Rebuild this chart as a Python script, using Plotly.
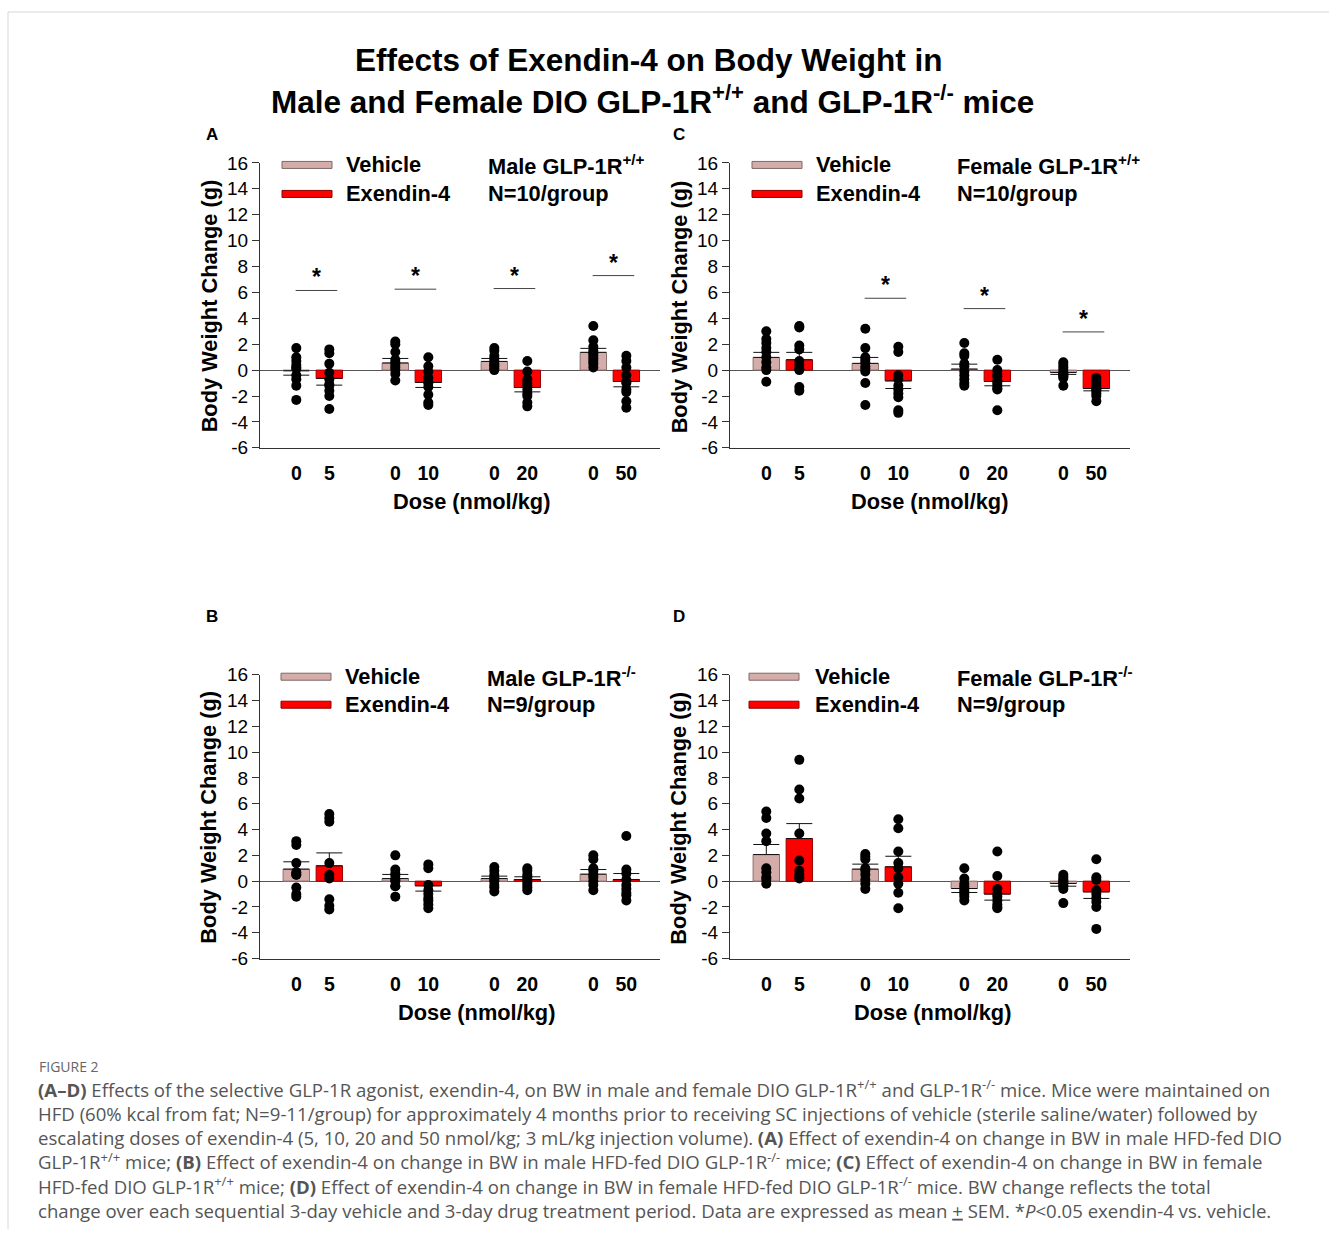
import plotly.graph_objects as go

# ---------------- data ----------------
doses = [5, 10, 20, 50]
dose_labels = ["5", "10", "20", "50"]

# Panel A: Male GLP-1R+/+
A_veh_mean = [-0.05, 0.55, 0.67, 1.37]
A_veh_sem = [0.34, 0.35, 0.23, 0.31]
A_exe_mean = [-0.64, -0.95, -1.34, -0.88]
A_exe_sem = [0.52, 0.39, 0.34, 0.41]
A_veh_pts = [[1.7, 1.0, 0.7, 0.4, 0.2, 0.1, -0.4, -0.7, -1.2, -2.3],
             [2.2, 2.0, 1.4, 0.8, 0.6, 0.4, 0.2, 0.0, -0.3, -0.8],
             [1.7, 1.5, 1.1, 0.9, 0.7, 0.5, 0.4, 0.3, 0.1, 0.0],
             [3.4, 2.3, 1.8, 1.5, 1.3, 1.1, 0.9, 0.7, 0.5, 0.2]]
A_exe_pts = [[1.6, 1.3, 0.5, -0.2, -0.7, -1.1, -1.2, -1.6, -2.0, -3.0],
             [1.0, 0.3, -0.1, -0.6, -0.9, -1.0, -1.3, -1.9, -2.5, -2.7],
             [0.7, -0.1, -0.7, -1.0, -1.2, -1.5, -1.8, -2.0, -2.5, -2.8],
             [1.1, 0.7, 0.2, -0.4, -0.9, -1.0, -1.5, -1.7, -2.4, -2.9]]
A_sig_groups = [0, 1, 2, 3]
A_sig_y = [6.15, 6.25, 6.3, 7.3]

# Panel C: Female GLP-1R+/+
C_veh_mean = [0.98, 0.52, 0.08, -0.18]
C_veh_sem = [0.39, 0.46, 0.38, 0.15]
C_exe_mean = [0.8, -0.83, -0.88, -1.42]
C_exe_sem = [0.57, 0.59, 0.33, 0.18]
C_veh_pts = [[3.0, 2.4, 2.1, 1.7, 1.4, 1.0, 0.6, 0.2, 0.0, -0.9],
             [3.2, 1.7, 1.0, 0.8, 0.6, 0.3, 0.1, -0.1, -1.0, -2.7],
             [2.1, 1.3, 1.1, 0.5, 0.3, -0.1, -0.4, -0.7, -1.0, -1.2],
             [0.6, 0.4, 0.2, 0.0, -0.2, -0.3, -0.4, -0.5, -0.6, -1.2]]
C_exe_pts = [[3.4, 3.3, 1.9, 1.6, 0.7, 0.4, 0.1, 0.0, -1.3, -1.6],
             [1.8, 1.4, -0.4, -0.7, -1.2, -1.5, -1.8, -2.1, -3.1, -3.3],
             [0.8, 0.0, -0.3, -0.5, -0.8, -1.0, -1.2, -1.4, -1.5, -3.1],
             [-0.6, -0.8, -1.0, -1.2, -1.4, -1.5, -1.6, -1.8, -2.0, -2.4]]
C_sig_groups = [1, 2, 3]
C_sig_y = [5.55, 4.75, 2.95]

# Panel B: Male GLP-1R-/-
B_veh_mean = [0.93, 0.2, 0.2, 0.54]
B_veh_sem = [0.57, 0.32, 0.19, 0.36]
B_exe_mean = [1.19, -0.36, 0.13, 0.13]
B_exe_sem = [1.0, 0.41, 0.21, 0.46]
B_veh_pts = [[3.1, 2.8, 1.4, 0.7, 0.5, 0.5, -0.5, -1.0, -1.2],
             [2.0, 0.9, 0.6, 0.4, 0.1, 0.0, -0.4, -0.4, -1.2],
             [1.1, 0.8, 0.5, 0.3, 0.1, 0.0, -0.3, -0.5, -0.8],
             [2.0, 1.7, 1.0, 0.8, 0.5, 0.3, 0.0, -0.3, -0.7]]
B_exe_pts = [[5.2, 4.9, 4.6, 1.4, 0.5, 0.2, -1.4, -1.9, -2.2],
             [1.3, 1.0, -0.3, -0.7, -1.0, -1.3, -1.5, -1.8, -2.1],
             [1.0, 0.8, 0.5, 0.3, 0.1, -0.1, -0.3, -0.5, -0.7],
             [3.5, 0.9, 0.6, 0.1, -0.3, -0.6, -0.9, -1.1, -1.5]]
B_sig_groups = []
B_sig_y = []

# Panel D: Female GLP-1R-/-
D_veh_mean = [2.06, 0.93, -0.57, -0.18]
D_veh_sem = [0.78, 0.39, 0.31, 0.21]
D_exe_mean = [3.3, 1.11, -1.0, -0.83]
D_exe_sem = [1.16, 0.82, 0.47, 0.51]
D_veh_pts = [[5.4, 4.9, 3.7, 3.1, 1.0, 0.7, 0.3, 0.1, -0.2],
             [2.1, 1.9, 1.7, 1.0, 0.8, 0.5, 0.1, -0.2, -0.6],
             [1.0, 0.2, -0.2, -0.4, -0.6, -0.8, -1.0, -1.2, -1.5],
             [0.5, 0.3, 0.1, 0.0, -0.1, -0.3, -0.4, -0.6, -1.7]]
D_exe_pts = [[9.4, 7.1, 6.4, 3.7, 1.6, 0.8, 0.5, 0.3, 0.2],
             [4.8, 4.1, 2.3, 1.4, 1.0, 0.3, -0.2, -0.9, -2.1],
             [2.3, 0.4, -0.6, -1.0, -1.2, -1.5, -1.8, -2.0, -2.1],
             [1.7, 0.3, 0.1, -0.7, -1.0, -1.3, -1.6, -2.0, -3.7]]
D_sig_groups = []
D_sig_y = []

panel_sex = {"A": "Male", "C": "Female", "B": "Male", "D": "Female"}
panel_geno = {"A": "+/+", "C": "+/+", "B": "-/-", "D": "-/-"}
panel_n = {"A": "N=10/group", "C": "N=10/group", "B": "N=9/group", "D": "N=9/group"}

y_ticks = list(range(-6, 17, 2))
y_tick_labels = [str(v) for v in y_ticks]

# ---------------- styling / layout helpers ----------------
W, H = 1329, 1240
FONT = "Liberation Sans, Arial, sans-serif"
CAP_FONT = "Open Sans, Noto Sans, sans-serif"
VEH_COLOR = "#d4acaa"
EXE_COLOR = "#ff0000"
LBL = 21.8  # bold label size

# the page is photographed with a small vertical offset/scale; compensate
V_OFF = 10.0
V_SC = 0.9835


def px(x):
    return x / W


def py(y):
    return 1 - ((y - V_OFF) / V_SC) / H


# geometry: (axis left, axis right, top, bottom) in pixels
geom = {"A": (260, 660, 163, 448), "C": (730, 1130, 163, 448),
        "B": (260, 660, 675, 959), "D": (730, 1130, 675, 959)}
legend_geom = {  # swatch left, text left, label left, row-1 y, row-2 y
    "A": (282, 344, 486, 165, 194),
    "C": (752, 814, 955, 165, 194),
    "B": (281, 343, 485, 677, 705),
    "D": (749, 813, 955, 677, 705),
}
letter_pos = {"A": (212, 135), "C": (679, 135), "B": (212, 617), "D": (679, 617)}
xtitle_pos = {"A": (471, 502), "C": (929, 502), "B": (476, 1013), "D": (932, 1013)}

data = {
    "A": (A_veh_mean, A_veh_sem, A_exe_mean, A_exe_sem, A_veh_pts, A_exe_pts, A_sig_groups, A_sig_y),
    "C": (C_veh_mean, C_veh_sem, C_exe_mean, C_exe_sem, C_veh_pts, C_exe_pts, C_sig_groups, C_sig_y),
    "B": (B_veh_mean, B_veh_sem, B_exe_mean, B_exe_sem, B_veh_pts, B_exe_pts, B_sig_groups, B_sig_y),
    "D": (D_veh_mean, D_veh_sem, D_exe_mean, D_exe_sem, D_veh_pts, D_exe_pts, D_sig_groups, D_sig_y),
}

GROUP_STEP = 3
BAR_W = 0.8
fig = go.Figure()
shapes = []
annotations = []
layout = {}


def err(means, sems):
    up = [s if m >= 0 else 0 for m, s in zip(means, sems)]
    dn = [0 if m >= 0 else s for m, s in zip(means, sems)]
    return dict(type="data", symmetric=False, array=up, arrayminus=dn,
                color="#111", thickness=1, width=13)


for i, key in enumerate(["A", "C", "B", "D"]):
    sfx = "" if i == 0 else str(i + 1)
    xa, ya = "x" + sfx, "y" + sfx
    vm, vs, em, es, vp, ep, sg, sy = data[key]
    xv = [GROUP_STEP * g for g in range(len(doses))]
    xe = [GROUP_STEP * g + 1 for g in range(len(doses))]

    fig.add_trace(go.Bar(x=xv, y=vm, width=BAR_W, xaxis=xa, yaxis=ya,
                         marker=dict(color=VEH_COLOR, line=dict(color="#8a7070", width=1)),
                         error_y=err(vm, vs), showlegend=False, name="Vehicle"))
    fig.add_trace(go.Bar(x=xe, y=em, width=BAR_W, xaxis=xa, yaxis=ya,
                         marker=dict(color=EXE_COLOR, line=dict(color="#9a0000", width=1)),
                         error_y=err(em, es), showlegend=False, name="Exendin-4"))
    dx, dy = [], []
    for g in range(len(doses)):
        dx += [xv[g]] * len(vp[g]) + [xe[g]] * len(ep[g])
        dy += vp[g] + ep[g]
    fig.add_trace(go.Scatter(x=dx, y=dy, mode="markers", xaxis=xa, yaxis=ya,
                             marker=dict(color="black", size=10), showlegend=False,
                             cliponaxis=False, hoverinfo="y"))

    x0, x1, t, b = geom[key]
    tickvals = []
    ticktext = []
    for g in range(len(doses)):
        tickvals += [xv[g], xe[g]]
        ticktext += ["0", dose_labels[g]]
    layout["xaxis" + sfx] = dict(
        domain=[px(x0), px(x1)], anchor=ya, range=[-1.1, 11.02],
        tickvals=tickvals, ticktext=ticktext, ticks="outside", ticklen=8,
        tickcolor="rgba(0,0,0,0)", showline=True, linecolor="#333", linewidth=1,
        showgrid=False, zeroline=False, fixedrange=True,
        tickfont=dict(family=FONT, size=19.5, color="black", weight=700))
    layout["yaxis" + sfx] = dict(
        domain=[py(b), py(t)], anchor=xa, range=[-6, 16], tickvals=y_ticks,
        ticktext=y_tick_labels,
        ticks="outside", ticklen=7, tickcolor="#333", showline=True,
        linecolor="#333", linewidth=1, showgrid=False, zeroline=True,
        zerolinecolor="#555", zerolinewidth=1, fixedrange=True,
        tickfont=dict(family=FONT, size=19, color="black"))

    # significance lines and stars
    for g, yv in zip(sg, sy):
        shapes.append(dict(type="line", xref=xa, yref=ya, x0=xv[g] - 0.02, x1=xe[g] + 0.24,
                           y0=yv, y1=yv, line=dict(color="#444", width=1)))
        annotations.append(dict(xref=xa, yref=ya, x=(xv[g] + xe[g]) / 2 + 0.1, y=yv,
                                yanchor="bottom", yshift=-2, text="<b>*</b>", showarrow=False,
                                font=dict(family=FONT, size=23, color="black")))

    # legend swatches & texts
    sl, tl, ll, r1, r2 = legend_geom[key]
    shapes.append(dict(type="rect", xref="paper", yref="paper", x0=px(sl), x1=px(sl + 50),
                       y0=py(r1 + 3.5), y1=py(r1 - 3.5), fillcolor=VEH_COLOR,
                       line=dict(color="#7a6a6a", width=1)))
    shapes.append(dict(type="rect", xref="paper", yref="paper", x0=px(sl), x1=px(sl + 50),
                       y0=py(r2 + 3.5), y1=py(r2 - 3.5), fillcolor=EXE_COLOR,
                       line=dict(color="#8a0000", width=1)))
    for txt, xx, yy in [("Vehicle", tl, r1), ("Exendin-4", tl, r2),
                        (panel_sex[key] + " GLP-1R<sup>" + panel_geno[key] + "</sup>", ll, r1),
                        (panel_n[key], ll, r2)]:
        annotations.append(dict(xref="paper", yref="paper", x=px(xx), y=py(yy), xanchor="left",
                                yanchor="middle", text="<b>" + txt + "</b>", showarrow=False,
                                font=dict(family=FONT, size=LBL, color="black")))

    # panel letter
    lx, ly = letter_pos[key]
    annotations.append(dict(xref="paper", yref="paper", x=px(lx), y=py(ly), text="<b>" + key + "</b>",
                            showarrow=False, xanchor="center", yanchor="middle",
                            font=dict(family=FONT, size=17, color="black")))
    # axis titles
    tx, ty = xtitle_pos[key]
    annotations.append(dict(xref="paper", yref="paper", x=px(tx), y=py(ty), text="<b>Dose (nmol/kg)</b>",
                            showarrow=False, xanchor="center", yanchor="middle",
                            font=dict(family=FONT, size=LBL, color="black")))
    annotations.append(dict(xref="paper", yref="paper", x=px(x0 - 51), y=py((t + b) / 2 + 1),
                            text="<b>Body Weight Change (g)</b>", textangle=-90, showarrow=False,
                            xanchor="center", yanchor="middle",
                            font=dict(family=FONT, size=LBL, color="black")))

# main title
annotations.append(dict(xref="paper", yref="paper", x=px(648), y=py(60), showarrow=False,
                        text="<b>Effects of Exendin-4 on Body Weight in</b>", xanchor="center",
                        yanchor="middle", font=dict(family=FONT, size=31.5, color="black")))
annotations.append(dict(xref="paper", yref="paper", x=px(652), y=py(100), showarrow=False,
                        text="<b>Male and Female DIO GLP-1R<sup>+/+</sup> and GLP-1R<sup>-/-</sup> mice</b>",
                        xanchor="center", yanchor="middle", font=dict(family=FONT, size=31.5, color="black")))

# caption
caption_lines = [
    "<b>(A–D)</b> Effects of the selective GLP-1R agonist, exendin-4, on BW in male and female DIO GLP-1R<sup>+/+</sup> and GLP-1R<sup>-/-</sup> mice. Mice were maintained on",
    "HFD (60% kcal from fat; N=9-11/group) for approximately 4 months prior to receiving SC injections of vehicle (sterile saline/water) followed by",
    "escalating doses of exendin-4 (5, 10, 20 and 50 nmol/kg; 3 mL/kg injection volume). <b>(A)</b> Effect of exendin-4 on change in BW in male HFD-fed DIO",
    "GLP-1R<sup>+/+</sup> mice; <b>(B)</b> Effect of exendin-4 on change in BW in male HFD-fed DIO GLP-1R<sup>-/-</sup> mice; <b>(C)</b> Effect of exendin-4 on change in BW in female",
    "HFD-fed DIO GLP-1R<sup>+/+</sup> mice; <b>(D)</b> Effect of exendin-4 on change in BW in female HFD-fed DIO GLP-1R<sup>-/-</sup> mice. BW change reflects the total",
    "change over each sequential 3-day vehicle and 3-day drug treatment period. Data are expressed as mean <u>+</u> SEM. *<i>P</i>&lt;0.05 exendin-4 vs. vehicle.",
]
annotations.append(dict(xref="paper", yref="paper", x=px(37), y=py(1067), xanchor="left", yanchor="middle",
                        text="FIGURE 2", showarrow=False, font=dict(family=CAP_FONT, size=14, color="#666")))
annotations.append(dict(xref="paper", yref="paper", x=px(36), y=py(1073), xanchor="left",
                        yanchor="top", align="left", text="<br>".join(caption_lines), showarrow=False,
                        font=dict(family=CAP_FONT, size=18.6, color="#555")))

# card frame
shapes.append(dict(type="line", xref="paper", yref="paper", x0=px(8), x1=1, y0=py(12), y1=py(12),
                   line=dict(color="#d6d6d6", width=1)))
shapes.append(dict(type="line", xref="paper", yref="paper", x0=px(8), x1=px(8), y0=py(12), y1=0,
                   line=dict(color="#d6d6d6", width=1)))

fig.update_layout(width=W, height=H, margin=dict(l=0, r=0, t=0, b=0), barmode="overlay",
                  paper_bgcolor="white", plot_bgcolor="white", shapes=shapes,
                  annotations=annotations, font=dict(family=FONT), **layout)
fig.write_html("out.html", config={"displayModeBar": False},
               post_script="document.body.style.margin='0';document.body.style.overflow='hidden';")
